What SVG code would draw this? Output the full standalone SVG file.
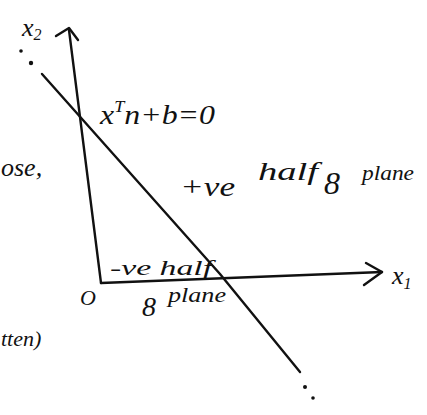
<svg xmlns="http://www.w3.org/2000/svg" width="427" height="415" viewBox="0 0 427 415">
<style>
.ln{fill:none;stroke:#111;stroke-width:2.4;stroke-linecap:round;stroke-linejoin:round}
.t{font-family:"Liberation Serif",serif;font-style:italic;fill:#111}
.dot{fill:#111}
</style>
<rect width="427" height="415" fill="#fff"/>
<g id="connectors">
  <path id="y-axis" class="ln" d="M101,283 L69,30"/>
  <path id="y-arrow" class="ln" d="M56,36 L69,28 L78,40"/>
  <path id="x-axis" class="ln" d="M101,283 L382,272"/>
  <path id="x-arrow" class="ln" d="M366,263 L382,272 L364,285"/>
  <path id="boundary" class="ln" d="M42,74 L220,274 L300,372"/>
  <circle class="dot" cx="21" cy="51" r="1.8"/>
  <circle class="dot" cx="31" cy="63" r="2.2"/>
  <circle class="dot" cx="305" cy="387" r="2"/>
  <circle class="dot" cx="313" cy="398" r="1.8"/>
</g>
<g id="label-x2"><text class="t" x="22" y="36" font-size="26">x<tspan font-size="16" dy="4">2</tspan></text></g>
<g id="label-eq"><text class="t" x="100" y="124" font-size="28" textLength="115" lengthAdjust="spacingAndGlyphs">x<tspan font-size="16" dy="-12">T</tspan><tspan dy="12">n+b=0</tspan></text></g>
<g id="label-ose"><text class="t" x="1" y="176" font-size="26">ose,</text></g>
<g id="label-pos"><text class="t" x="180" y="196" font-size="28" textLength="55" lengthAdjust="spacingAndGlyphs">+ve</text><text class="t" x="258" y="180" font-size="26" textLength="60" lengthAdjust="spacingAndGlyphs">half</text><text class="t" x="324" y="194" font-size="32">8</text><text class="t" x="362" y="180" font-size="22" textLength="52" lengthAdjust="spacingAndGlyphs">plane</text></g>
<g id="label-neg"><text class="t" x="110" y="275" font-size="20" textLength="102" lengthAdjust="spacingAndGlyphs">-ve half</text></g>
<g id="label-x1"><text class="t" x="392" y="284" font-size="26">x<tspan font-size="16" dy="5">1</tspan></text></g>
<g id="label-origin"><text class="t" x="80" y="305" font-size="22">O</text></g>
<g id="label-plane"><text class="t" x="142" y="316" font-size="28">8</text><text class="t" x="168" y="302" font-size="22" textLength="58" lengthAdjust="spacingAndGlyphs">plane</text></g>
<g id="label-tten"><text class="t" x="1" y="346" font-size="22">tten)</text></g>
</svg>
